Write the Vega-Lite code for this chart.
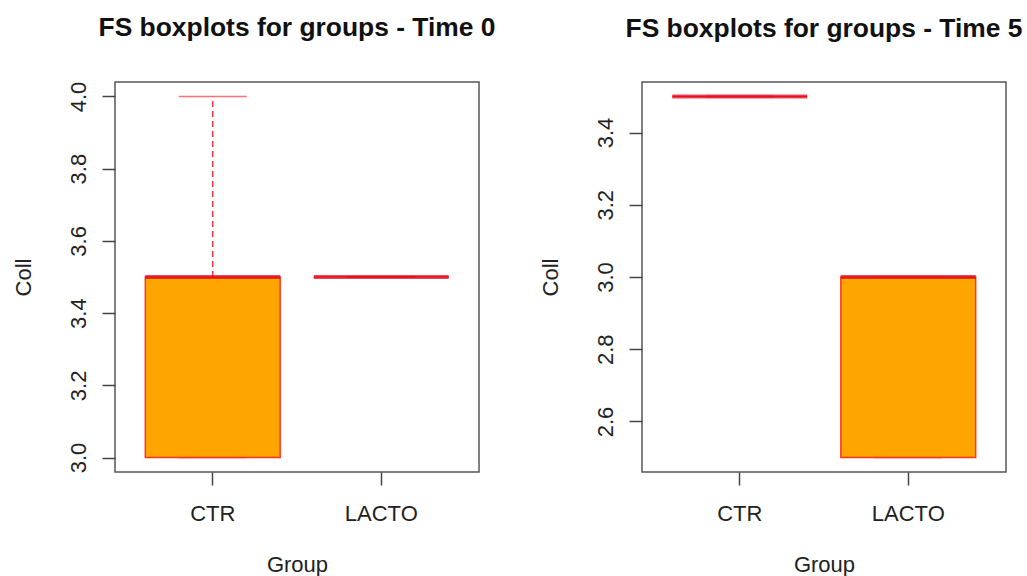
{
  "$schema": "https://vega.github.io/schema/vega-lite/v6.json",
  "padding": {"left": 11, "top": 14, "right": 0, "bottom": 0},
  "background": "white",
  "bounds": "flush",
  "spacing": 163,
  "datasets": {
    "t0": [
      {"Group": "CTR", "min": 3.0, "q1": 3.0, "median": 3.5, "q3": 3.5, "max": 4.0},
      {"Group": "LACTO", "min": 3.5, "q1": 3.5, "median": 3.5, "q3": 3.5, "max": 3.5}
    ],
    "t5": [
      {"Group": "CTR", "min": 3.5, "q1": 3.5, "median": 3.5, "q3": 3.5, "max": 3.5},
      {"Group": "LACTO", "min": 2.5, "q1": 2.5, "median": 3.0, "q3": 3.0, "max": 3.0}
    ]
  },
  "config": {
    "font": "Liberation Sans",
    "view": {"stroke": "#555555", "strokeWidth": 1.5},
    "title": {"fontSize": 26.4, "fontWeight": "bold", "color": "#111111", "anchor": "middle", "offset": 40, "font": "Liberation Sans"},
    "axis": {
      "grid": false,
      "domain": false,
      "tickSize": 13,
      "tickColor": "#444444",
      "tickWidth": 1.5,
      "labelFontSize": 22,
      "labelColor": "#222222",
      "titleFontSize": 22,
      "titleFontWeight": "normal",
      "titleColor": "#222222",
      "labelFont": "Liberation Sans",
      "titleFont": "Liberation Sans"
    },
    "axisX": {"labelAngle": 0, "labelPadding": 18, "titlePadding": 30},
    "axisY": {"labelAngle": 270, "labelAlign": "center", "labelBaseline": "alphabetic", "labelPadding": 17, "titlePadding": 32, "format": ".1f"}
  },
  "hconcat": [
    {
      "title": "FS boxplots for groups - Time 0",
      "width": 364,
      "height": 390,
      "data": {"name": "t0"},
      "encoding": {
        "x": {"field": "Group", "type": "nominal", "title": "Group", "scale": {"paddingInner": 0.2, "paddingOuter": 0.18}}
      },
      "layer": [
        {
          "mark": {"type": "rule", "color": "#ff3344", "strokeWidth": 1.5, "strokeDash": [6, 4]},
          "encoding": {"y": {"field": "q3", "type": "quantitative", "title": "Coll", "scale": {"domain": [2.96, 4.04], "nice": false, "zero": false}, "axis": {"values": [3.0, 3.2, 3.4, 3.6, 3.8, 4.0]}}, "y2": {"field": "max"}}
        },
        {
          "mark": {"type": "rule", "color": "#ff3344", "strokeWidth": 1.5, "strokeDash": [6, 4]},
          "encoding": {"y": {"field": "min", "type": "quantitative"}, "y2": {"field": "q1"}}
        },
        {
          "mark": {"type": "tick", "color": "#ff3344", "thickness": 1.5, "size": 68},
          "encoding": {"y": {"field": "max", "type": "quantitative"}}
        },
        {
          "mark": {"type": "tick", "color": "#ff3344", "thickness": 1.5, "size": 68},
          "encoding": {"y": {"field": "min", "type": "quantitative"}}
        },
        {
          "mark": {"type": "bar", "fill": "#ffa500", "stroke": "#ff3322", "strokeWidth": 1.5},
          "encoding": {"y": {"field": "q1", "type": "quantitative"}, "y2": {"field": "q3"}}
        },
        {
          "mark": {"type": "tick", "color": "#dd0018", "thickness": 4, "size": 135},
          "encoding": {"y": {"field": "median", "type": "quantitative"}}
        }
      ]
    },
    {
      "title": "FS boxplots for groups - Time 5",
      "width": 364,
      "height": 390,
      "data": {"name": "t5"},
      "encoding": {
        "x": {"field": "Group", "type": "nominal", "title": "Group", "scale": {"paddingInner": 0.2, "paddingOuter": 0.18}}
      },
      "layer": [
        {
          "mark": {"type": "rule", "color": "#ff3344", "strokeWidth": 1.5, "strokeDash": [6, 4]},
          "encoding": {"y": {"field": "q3", "type": "quantitative", "title": "Coll", "scale": {"domain": [2.46, 3.54], "nice": false, "zero": false}, "axis": {"values": [2.6, 2.8, 3.0, 3.2, 3.4]}}, "y2": {"field": "max"}}
        },
        {
          "mark": {"type": "rule", "color": "#ff3344", "strokeWidth": 1.5, "strokeDash": [6, 4]},
          "encoding": {"y": {"field": "min", "type": "quantitative"}, "y2": {"field": "q1"}}
        },
        {
          "mark": {"type": "tick", "color": "#ff3344", "thickness": 1.5, "size": 68},
          "encoding": {"y": {"field": "max", "type": "quantitative"}}
        },
        {
          "mark": {"type": "tick", "color": "#ff3344", "thickness": 1.5, "size": 68},
          "encoding": {"y": {"field": "min", "type": "quantitative"}}
        },
        {
          "mark": {"type": "bar", "fill": "#ffa500", "stroke": "#ff3322", "strokeWidth": 1.5},
          "encoding": {"y": {"field": "q1", "type": "quantitative"}, "y2": {"field": "q3"}}
        },
        {
          "mark": {"type": "tick", "color": "#dd0018", "thickness": 4, "size": 135},
          "encoding": {"y": {"field": "median", "type": "quantitative"}}
        }
      ]
    }
  ]
}
